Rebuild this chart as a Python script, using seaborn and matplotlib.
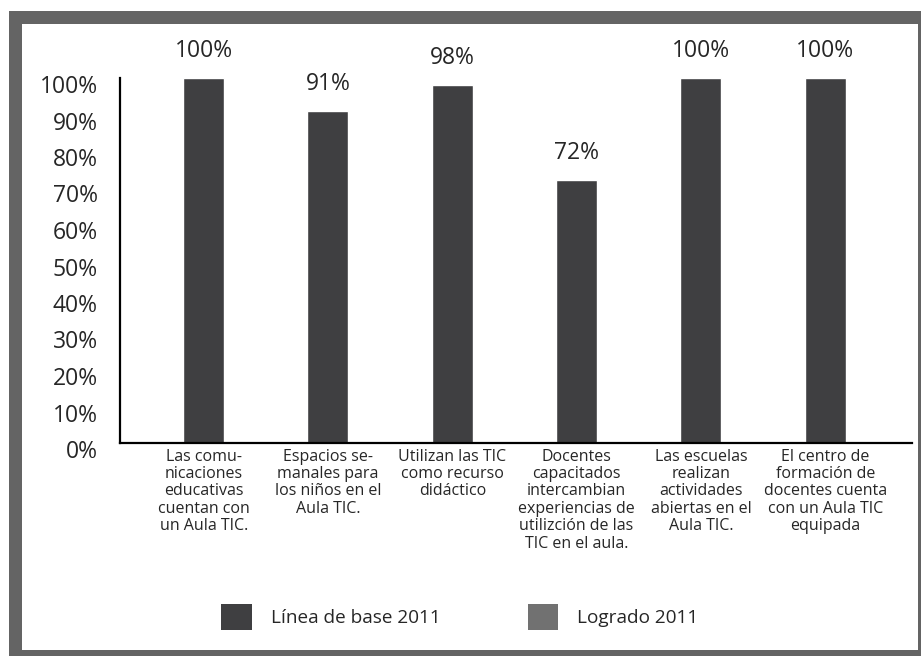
import matplotlib
matplotlib.use("Agg")
import matplotlib.pyplot as plt
import matplotlib.transforms as mtransforms
from matplotlib.patches import Patch, Rectangle
import numpy as np
import pandas as pd
import seaborn as sns

# === Data ===
categories = [
    "Las comu-\nnicaciones\neducativas\ncuentan con\nun Aula TIC.",
    "Espacios se-\nmanales para\nlos niños en el\nAula TIC.",
    "Utilizan las TIC\ncomo recurso\ndidáctico",
    "Docentes\ncapacitados\nintercambian\nexperiencias de\nutilizción de las\nTIC en el aula.",
    "Las escuelas\nrealizan\nactividades\nabiertas en el\nAula TIC.",
    "El centro de\nformación de\ndocentes cuenta\ncon un Aula TIC\nequipada",
]
linea_base = [100, 91, 98, 72, 100, 100]
series_names = ["Línea de base 2011", "Logrado 2011"]
y_ticks = list(range(0, 101, 10))

DARK = "#3f3f41"
LIGHT = "#717171"
FRAME = "#646464"

sns.set_style("white")
plt.rcParams["font.family"] = ["Open Sans", "DejaVu Sans"]

W, H = 921, 656
fig = plt.figure(figsize=(W / 100, H / 100), dpi=100)
fig.patch.set_facecolor("white")

# gray frame
fig.patches.append(Rectangle((9 / W, 0), 1 - 9 / W, 1 - 11 / H, transform=fig.transFigure,
                             facecolor=FRAME, edgecolor="none", zorder=-2))
fig.patches.append(Rectangle((22 / W, 6 / H), (918 - 22) / W, (650 - 24) / H,
                             transform=fig.transFigure, facecolor="white",
                             edgecolor="none", zorder=-1))

ax = fig.add_axes([120 / W, 1 - 443 / H, (912 - 120) / W, (443 - 78) / H])
ax.set_facecolor("none")

df = pd.DataFrame({"cat": categories, "val": linea_base})
sns.barplot(data=df, x="cat", y="val", color=DARK, width=0.33, saturation=1, ax=ax)

ax.set_xlim(-0.673, 5.698)
ax.set_ylim(0, 100)
ax.set_xlabel("")
ax.set_ylabel("")

ax.set_yticks(y_ticks)
ax.set_yticklabels([f"{t}%" for t in y_ticks], fontsize=16.5)
ax.tick_params(axis="y", length=0, pad=16)
ax.tick_params(axis="x", length=0, pad=4, labelsize=11.5)
for lab in ax.get_xticklabels():
    lab.set_linespacing(1.12)

# y tick labels sit a little below their gridline positions
offset = mtransforms.ScaledTranslation(0, -6 / 100, fig.dpi_scale_trans)
for lab in ax.get_yticklabels():
    lab.set_transform(lab.get_transform() + offset)

for side in ["top", "right"]:
    ax.spines[side].set_visible(False)
for side in ["left", "bottom"]:
    ax.spines[side].set_color("black")
    ax.spines[side].set_linewidth(1.6)

ax.bar_label(ax.containers[0], labels=[f"{v}%" for v in linea_base],
             padding=11, fontsize=16.5, clip_on=False)

# legend
handles = [Patch(facecolor=DARK, edgecolor="none", label=series_names[0]),
           Patch(facecolor=LIGHT, edgecolor="none", label=series_names[1])]
fig.legend(handles=handles, loc="center", bbox_to_anchor=(460 / W, 1 - 617 / H),
           ncol=2, frameon=False, fontsize=13.7, handlelength=1.6, handleheight=1.7,
           handletextpad=1.0, columnspacing=4.6)

fig.savefig("out.png", dpi=100)
